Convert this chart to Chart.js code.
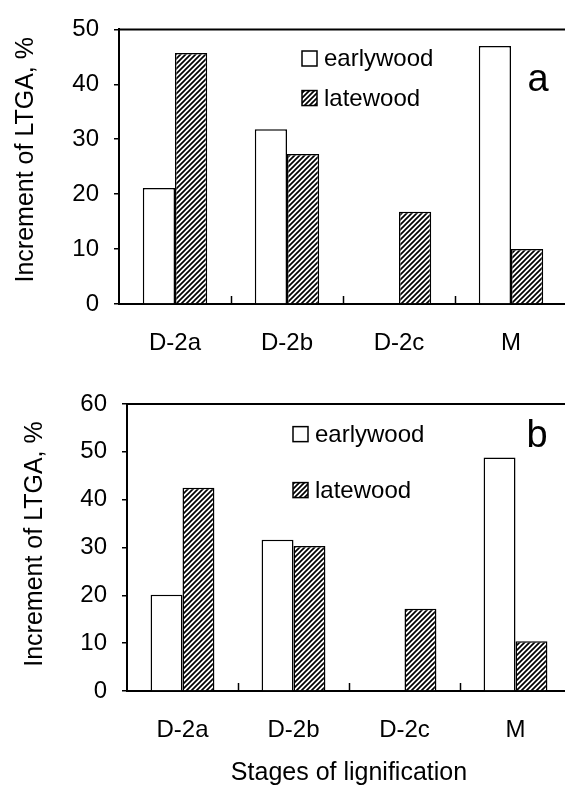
<!DOCTYPE html>
<html>
<head>
<meta charset="utf-8">
<script src="https://cdn.jsdelivr.net/npm/chart.js@4/dist/chart.umd.min.js"></script>
<style>
  html, body { margin: 0; padding: 0; background: #fff; }
  #wrap { position: relative; width: 565px; height: 785px; overflow: hidden; }
  canvas { position: absolute; left: 0; }
  #ligA { top: 0; }
  #ligB { top: 362px; }
</style>
</head>
<body>
<div id="wrap">
<canvas id="ligA" width="580" height="362"></canvas>
<canvas id="ligB" width="580" height="423"></canvas>
</div>
<script>
// values (increment of LTGA, %)
const stages = ['D-2a', 'D-2b', 'D-2c', 'M']
const seriesNames = ['earlywood', 'latewood']

const earlywoodA = [21.1, 31.8, null, 47.0]
const latewoodA = [45.7, 27.3, 16.8, 10.0]

const earlywoodB = [20.1, 31.6, null, 48.8]
const latewoodB = [42.5, 30.3, 17.2, 10.4]

const yMaxA = 50
const yMaxB = 60
const yStep = 10

Chart.defaults.font.family = "'Liberation Sans', Arial, sans-serif"
Chart.defaults.color = '#000'

function hatchPattern() {
    const s = 5
    const c = document.createElement('canvas')
    c.width = s
    c.height = s
    const g = c.getContext('2d')
    g.fillStyle = '#fff'
    g.fillRect(0, 0, s, s)
    g.strokeStyle = '#000'
    g.lineWidth = 1.7
    g.beginPath()
    g.moveTo(0, s)
    g.lineTo(s, 0)
    g.moveTo(-1, 1)
    g.lineTo(1, -1)
    g.moveTo(s - 1, s + 1)
    g.lineTo(s + 1, s - 1)
    g.stroke()
    return g.createPattern(c, 'repeat')
}

const hatch = hatchPattern()

// top frame line + inner tick marks between the categories
const frame = {
    id: 'frame',
    afterDraw(chart) {
        const { ctx, chartArea } = chart
        const x = chart.scales.x
        ctx.save()
        ctx.strokeStyle = '#000'
        ctx.lineWidth = 2
        ctx.beginPath()
        ctx.moveTo(chartArea.left, chartArea.top)
        ctx.lineTo(chartArea.right, chartArea.top)
        ctx.stroke()
        ctx.lineWidth = 1.5
        for (let i = 1; i < stages.length; i++) {
            const px = Math.round((x.getPixelForTick(i - 1) + x.getPixelForTick(i)) / 2) + 0.5
            ctx.beginPath()
            ctx.moveTo(px, chartArea.bottom)
            ctx.lineTo(px, chartArea.bottom - 8)
            ctx.stroke()
        }
        ctx.restore()
    }
}

// legend inside the plot and the panel letter
const insideLegend = {
    id: 'insideLegend',
    afterDraw(chart, args, opts) {
        const { ctx, chartArea } = chart
        const y = chart.scales.y
        ctx.save()
        ctx.font = "24px 'Liberation Sans', Arial, sans-serif"
        ctx.textBaseline = 'middle'
        ctx.textAlign = 'left'
        chart.data.datasets.forEach((ds, i) => {
            const bx = chartArea.left + opts.dx
            const cy = y.getPixelForValue(opts.rows[i])
            ctx.fillStyle = ds.backgroundColor
            ctx.fillRect(bx, cy - 7.5, 15, 15)
            ctx.strokeStyle = '#000'
            ctx.lineWidth = 1.5
            ctx.strokeRect(bx, cy - 7.5, 15, 15)
            ctx.fillStyle = '#000'
            ctx.fillText(ds.label, bx + 22, cy + 1)
        })
        ctx.font = "38px 'Liberation Sans', Arial, sans-serif"
        ctx.textAlign = 'center'
        ctx.fillText(opts.letter, chartArea.right - opts.letterDx, y.getPixelForValue(opts.letterY))
        ctx.restore()
    }
}

function makePanel(el, early, late, yMax, o) {
    return new Chart(el, {
        type: 'bar',
        data: {
            labels: stages,
            datasets: [
                {
                    label: seriesNames[0],
                    data: early,
                    backgroundColor: '#fff',
                    borderColor: '#000',
                    borderWidth: 1.5
                },
                {
                    label: seriesNames[1],
                    data: late,
                    backgroundColor: hatch,
                    borderColor: '#000',
                    borderWidth: 1.5
                }
            ]
        },
        options: {
            responsive: false,
            animation: false,
            devicePixelRatio: 1,
            layout: {
                padding: { top: o.top, right: o.right, left: 0, bottom: 0 }
            },
            datasets: {
                bar: { categoryPercentage: 0.575, barPercentage: 1.0 }
            },
            plugins: {
                legend: { display: false },
                tooltip: { enabled: false },
                insideLegend: o.legend
            },
            scales: {
                x: {
                    grid: { display: false },
                    border: { display: true, color: '#000', width: 2 },
                    ticks: { font: { size: 24 }, padding: o.xPad, color: '#000' },
                    title: {
                        display: !!o.xTitle,
                        text: o.xTitle || '',
                        font: { size: 25 },
                        padding: { top: 0, bottom: -3 }
                    },
                    afterFit: s => { s.height = o.xHeight }
                },
                y: {
                    min: 0,
                    max: yMax,
                    ticks: { stepSize: yStep, font: { size: 24 }, padding: 15, color: '#000' },
                    grid: { drawOnChartArea: false, drawTicks: true, tickLength: 5, color: '#000', lineWidth: 1.5 },
                    border: { display: true, color: '#000', width: 2 },
                    title: {
                        display: true,
                        text: o.yTitle,
                        font: { size: 25 },
                        padding: { top: o.yTitleTop, bottom: 0 }
                    },
                    afterFit: s => { s.width = o.yWidth }
                }
            }
        },
        plugins: [frame, insideLegend]
    })
}

makePanel(document.getElementById('ligA'), earlywoodA, latewoodA, yMaxA, {
    top: 26, right: 13, yWidth: 119, yTitleTop: 11, xHeight: 58, xPad: 17,
    yTitle: '  Increment of LTGA, %',
    legend: { dx: 183, rows: [44.7, 37.5], letter: 'a', letterDx: 29, letterY: 40.7 }
})

makePanel(document.getElementById('ligB'), earlywoodB, latewoodB, yMaxB, {
    top: 42, right: 9, yWidth: 127, yTitleTop: 20, xHeight: 94, xPad: 17,
    yTitle: ' Increment of LTGA, %',
    xTitle: 'Stages of lignification',
    legend: { dx: 166, rows: [53.7, 42.0], letter: 'b', letterDx: 34, letterY: 53.1 }
})
</script>
</body>
</html>
